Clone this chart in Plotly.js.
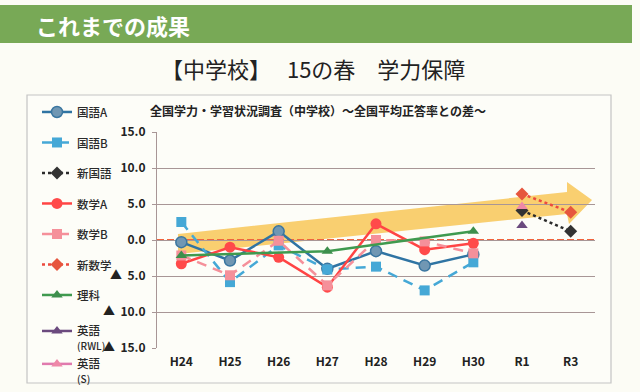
<!DOCTYPE html>
<html>
<head>
<meta charset="utf-8">
<script src="https://cdn.plot.ly/plotly-3.0.1.min.js"></script>
<style>
  html, body { margin: 0; padding: 0; background: #fcfcf5; }
  #chart { width: 640px; height: 392px; }
</style>
</head>
<body>
<div id="chart"></div>
<script>
// ---- data ----
const categories = ['H24', 'H25', 'H26', 'H27', 'H28', 'H29', 'H30', 'R1', 'R3'];
const kokugoA    = [-0.3, -2.85, 1.2, -4.0, -1.55, -3.55, -2.0, null, null];
const kokugoB    = [2.5, -5.85, -0.75, -4.1, -3.7, -7.0, -3.1, null, null];
const shinKokugo = [null, null, null, null, null, null, null, 4.1, 1.2];
const sugakuA    = [-3.3, -1.0, -2.4, -6.55, 2.25, -1.35, -0.45, null, null];
const sugakuB    = [-2.15, -4.9, -0.1, -6.3, 0.0, -0.2, -1.85, null, null];
const shinSugaku = [null, null, null, null, null, null, null, 6.4, 3.85];
const rika       = [-2.15, null, null, -1.55, null, null, 1.2, null, null];
const eigoRWL    = [null, null, null, null, null, null, null, 2.0, null];
const eigoS      = [null, null, null, null, null, null, null, 4.65, null];
const yTickVals  = [15, 10, 5, 0, -5, -10, -15];
const yTickText  = ['15.0', '10.0', '5.0', '0.0', '▲\u00a0\u00a05.0', '▲\u00a0\u00a010.0', '▲\u00a0\u00a015.0'];

const JP = '"Noto Sans CJK JP", "Noto Sans", sans-serif';

function tr(name, y, color, opts) {
  return Object.assign({
    type: 'scatter', mode: 'lines+markers', name: name,
    x: categories, y: y, legendgroup: name,
    line: { color: color, width: 2.5 },
    marker: { color: color, size: 10 }
  }, opts || {});
}

const traces = [
  tr('国語A', kokugoA, '#2f74a3', { marker: { color: '#7097b3', size: 11, symbol: 'circle', line: { color: '#3a76a0', width: 1.5 } } }),
  tr('国語B', kokugoB, '#45a8d6', { line: { color: '#45a8d6', width: 2.5, dash: '10px,7px' }, marker: { color: '#45a8d6', size: 10, symbol: 'square' } }),
  tr('新国語', shinKokugo, '#2b2b2b', { line: { color: '#2b2b2b', width: 2.5, dash: 'dot' }, marker: { color: '#333333', size: 10, symbol: 'diamond' } }),
  tr('数学A', sugakuA, '#ff4444', { marker: { color: '#ff4a4a', size: 11, symbol: 'circle' } }),
  tr('数学B', sugakuB, '#f5909a', { line: { color: '#f5909a', width: 2.5, dash: '10px,7px' }, marker: { color: '#f5909a', size: 10, symbol: 'square' } }),
  tr('新数学', shinSugaku, '#e8453c', { line: { color: '#ec4a3e', width: 2.5, dash: 'dot' }, marker: { color: '#e6563e', size: 10, symbol: 'diamond' } }),
  tr('理科', rika, '#3f9a4f', { connectgaps: true, marker: { color: '#3d8f4d', size: 10, symbol: 'triangle-up' } }),
  tr('英語<br><span style="font-size:10px">(RWL)</span>', eigoRWL, '#6b4a7e', { legend: 'legend2', marker: { color: '#6b4a7e', size: 10, symbol: 'triangle-up' } }),
  tr('英語<br><span style="font-size:10px">(S)</span>', eigoS, '#e07aae', { legend: 'legend2', marker: { color: '#ee88a8', size: 10, symbol: 'triangle-up' } })
];

// paper helpers (plot area: x 157..595, y 132..348)
const px = v => (v - 157) / 438;
const py = v => (348 - v) / 216;

const arrowPts = [[178, 234], [567, 192], [567, 182], [592, 200], [569, 224], [567, 214], [178, 254]];
const arrowPath = 'M ' + arrowPts.map(p => px(p[0]).toFixed(4) + ' ' + py(p[1]).toFixed(4)).join(' L ') + ' Z';

const tickFont = { family: JP, size: 12, color: '#222', weight: 'bold' };
const legFont = { family: JP, size: 11.5, color: '#2a2a2a', weight: 500 };

const layout = {
  width: 640, height: 392,
  margin: { l: 157, r: 45, t: 132, b: 44, autoexpand: false },
  paper_bgcolor: '#fcfcf5',
  plot_bgcolor: 'rgba(0,0,0,0)',
  font: { family: JP, color: '#222' },
  showlegend: true,
  xaxis: {
    type: 'category', categoryorder: 'array', categoryarray: categories,
    range: [-0.5, 8.5], showgrid: false, zeroline: false, showline: false,
    ticks: '', tickfont: tickFont, ticklabelstandoff: 5
  },
  xaxis2: {
    type: 'linear', overlaying: 'x', anchor: 'free', position: 0.5,
    range: [-0.5, 8.5], tick0: -0.5, dtick: 1, ticks: 'outside', ticklen: 3,
    tickcolor: '#b0a4a4', showticklabels: false, showgrid: false, zeroline: false,
    showline: true, linecolor: '#c0b4b4', linewidth: 1
  },
  yaxis: {
    range: [-15, 15], tickmode: 'array', tickvals: yTickVals, ticktext: yTickText,
    showgrid: true, gridcolor: '#a89696', gridwidth: 1, zeroline: false,
    showline: true, linecolor: '#a89696', ticks: 'outside', ticklen: 4, tickcolor: '#a89696',
    tickfont: tickFont, ticklabelstandoff: 4
  },
  legend: {
    x: px(37), y: py(98), xanchor: 'left', yanchor: 'top', maxheight: 320,
    bgcolor: 'rgba(0,0,0,0)', traceorder: 'grouped', tracegroupgap: 11.5,
    font: legFont, itemwidth: 30, valign: 'top'
  },
  legend2: {
    x: px(37), y: py(317), xanchor: 'left', yanchor: 'top', maxheight: 200,
    bgcolor: 'rgba(0,0,0,0)', traceorder: 'grouped', tracegroupgap: 0,
    font: legFont, itemwidth: 30, valign: 'top'
  },
  shapes: [
    { type: 'rect', xref: 'paper', yref: 'paper', x0: px(0), x1: px(632), y0: py(43), y1: py(5),
      fillcolor: '#78a956', line: { width: 0 }, layer: 'below' },
    { type: 'rect', xref: 'paper', yref: 'paper', x0: px(27), x1: px(611), y0: py(383), y1: py(95),
      fillcolor: 'rgba(255,255,255,0.35)', line: { color: '#c4c4c4', width: 1.2 }, layer: 'below' },
    { type: 'path', xref: 'paper', yref: 'paper', path: arrowPath,
      fillcolor: 'rgba(247,188,60,0.72)', line: { width: 0 }, layer: 'below' },
    { type: 'line', xref: 'paper', yref: 'y', x0: 0, x1: 1, y0: 0, y1: 0,
      line: { color: '#f0643e', width: 2, dash: '7px,3px' }, layer: 'between' }
  ],
  annotations: [
    { text: 'これまでの成果', xref: 'paper', yref: 'paper', x: px(34), y: py(25), xanchor: 'left', yanchor: 'middle',
      showarrow: false, font: { family: JP, size: 22, color: '#ffffff', weight: 'bold' } },
    { text: '【中学校】　 15の春　学力保障', xref: 'paper', yref: 'paper', x: px(313), y: py(68), xanchor: 'center', yanchor: 'middle',
      showarrow: false, font: { family: JP, size: 22, color: '#222' } },
    { text: '全国学力・学習状況調査（中学校）～全国平均正答率との差～', xref: 'paper', yref: 'paper', x: px(318), y: py(111),
      xanchor: 'center', yanchor: 'middle', showarrow: false, font: { family: JP, size: 12, color: '#222', weight: 'bold' } }
  ]
};

Plotly.newPlot('chart', traces, layout, { displayModeBar: false, staticPlot: true });
</script>
</body>
</html>
